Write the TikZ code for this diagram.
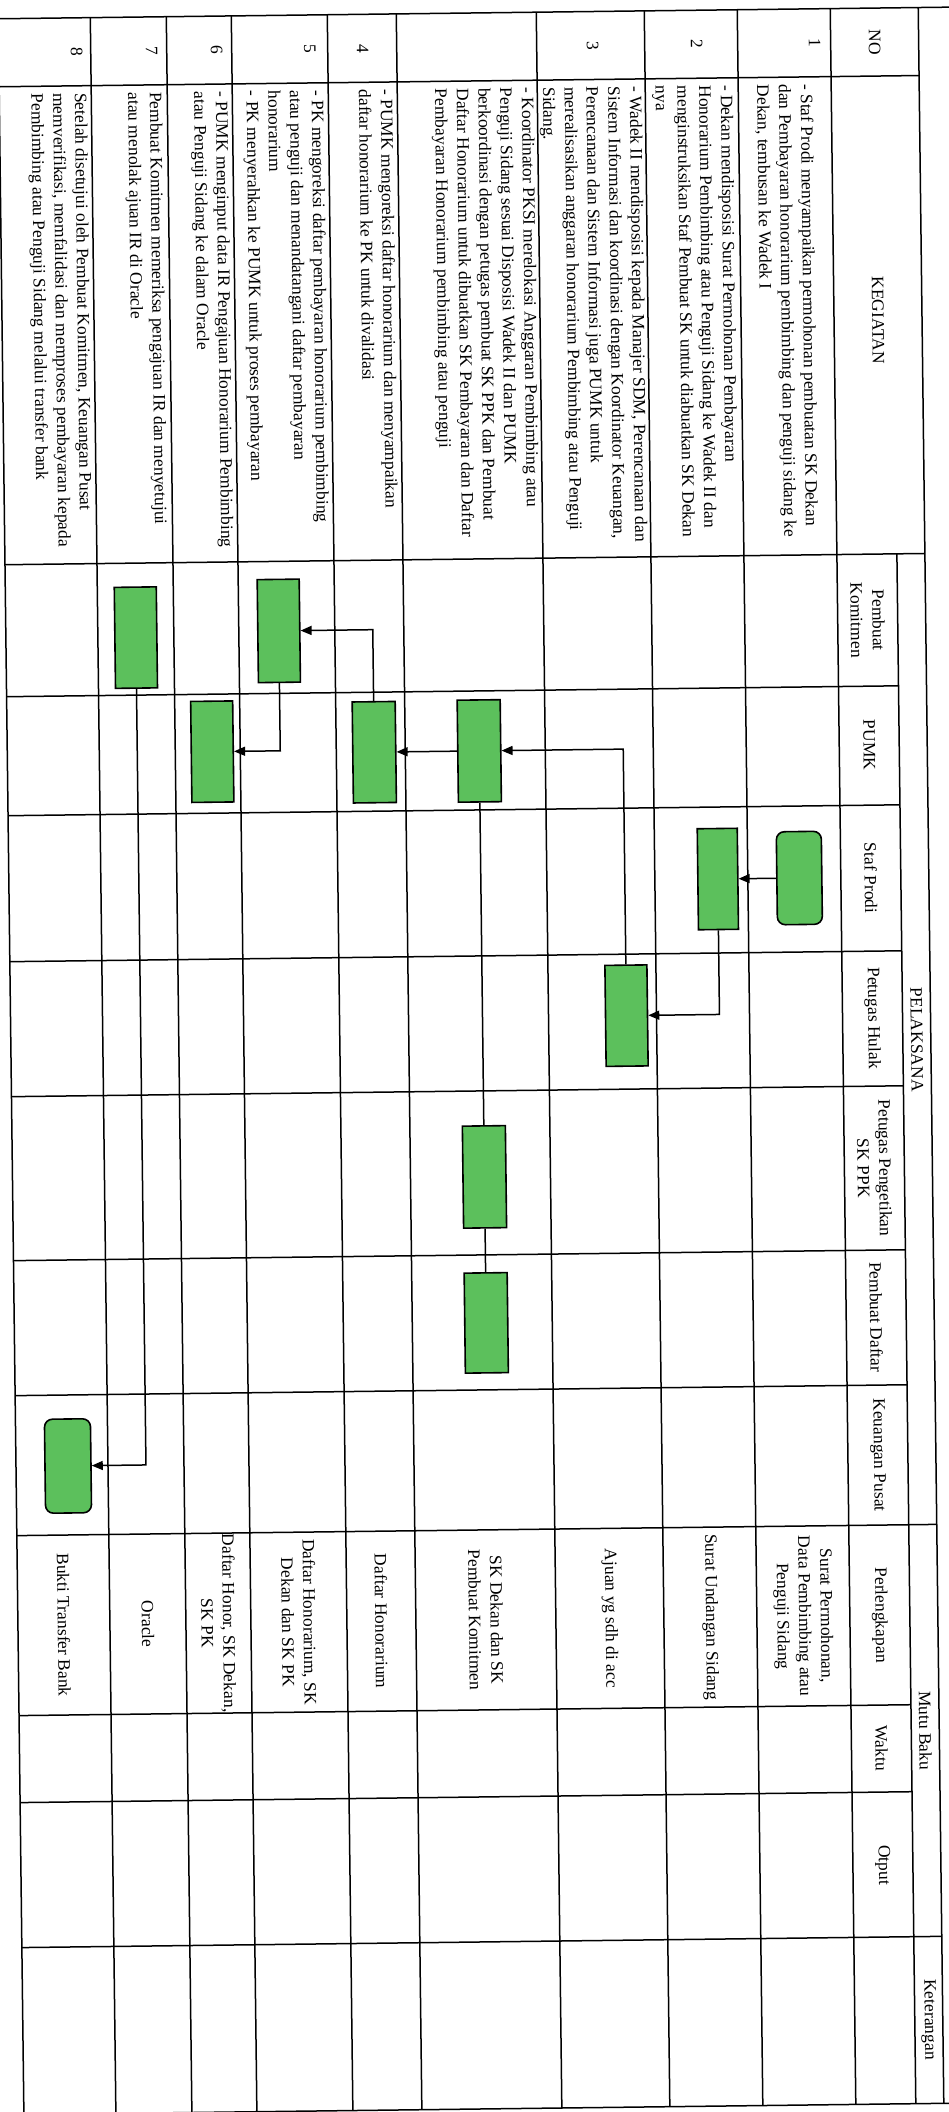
\documentclass[tikz,border=0pt]{standalone}
\usepackage{fontspec}
\setmainfont{Liberation Serif}
\usetikzlibrary{arrows.meta,calc}
\definecolor{boxgreen}{RGB}{92,192,92}
\newcommand\tabfont{\fontsize{17.5}{21.7}\selectfont}
\begin{document}
\begin{tikzpicture}[x=1pt,y=-1pt,
  tbl/.style={line width=1.5pt},
  txt/.style={rotate=-90, inner sep=0pt, font=\tabfont, align=left, anchor=north west},
  ctr/.style={rotate=-90, inner sep=0pt, font=\tabfont, align=center},
  act/.style={draw, line width=1.6pt, fill=boxgreen, inner sep=0pt},
  term/.style={act, rounded corners=8pt},
  conn/.style={line width=1.5pt, -{Triangle[length=11pt,width=9pt]}},
  link/.style={line width=1.5pt}]
\useasboundingbox (0,0) rectangle (949,2112);
\clip (0,0) rectangle (949,2112);
\fill[white] (0,0) rectangle (949,2112);
\begin{scope}[rotate around={0.7:(474.5,1056)}, transform shape]
% ---------- grid ----------
\foreach \x in {11,103,179,244,340,409,549,657,750,843,931}
  \draw[tbl] (\x,13) -- (\x,2109);
\draw[tbl] (903,559) -- (903,2109);
\draw[tbl] (-20,13) -- (975,13);
\draw[tbl] (-20,2109) -- (975,2109);
\foreach \y in {81,559,1530,1942}
  \draw[tbl] (11,\y) -- (931,\y);
\foreach \y in {691,810,956,1091,1255,1390,1710,1797}
  \draw[tbl] (11,\y) -- (903,\y);
% ---------- header ----------
\node[ctr] (hno) at (887,47) {NO};
\node[ctr] (hkeg) at (887,325) {KEGIATAN};
\node[ctr] (hpel) at (917,1045) {PELAKSANA};
\node[ctr] (hmutu) at (917,1736) {Mutu Baku};
\node[ctr] (hket) at (917,2025) {Keterangan};
\node[ctr] (hpk) at (873,625) {Pembuat\\Komitmen};
\node[ctr] (hpumk) at (873,750) {PUMK};
\node[ctr] (hstaf) at (873,883) {Staf Prodi};
\node[ctr] (hhulak) at (873,1023) {Petugas Hulak};
\node[ctr] (hsk) at (873,1173) {Petugas Pengetikan\\SK PPK};
\node[ctr] (hdaftar) at (873,1322) {Pembuat Daftar};
\node[ctr] (hkeu) at (873,1460) {Keuangan Pusat};
\node[ctr] (hperl) at (873,1620) {Perlengkapan};
\node[ctr] (hwaktu) at (873,1753) {Waktu};
\node[ctr] (hotput) at (873,1870) {Otput};
% ---------- numbers ----------
\node[ctr] (n1) at (827,47) {1};
\node[ctr] (n2) at (709,47) {2};
\node[ctr] (n3) at (605,47) {3};
\node[ctr] (n4) at (375,47) {4};
\node[ctr] (n5) at (322,47) {5};
\node[ctr] (n6) at (229,47) {6};
\node[ctr] (n7) at (164,47) {7};
\node[ctr] (n8) at (89,47) {8};
% ---------- kegiatan ----------
\node[txt] (k1) at (825,88) {- Staf Prodi menyampaikan permohonan pembuatan SK Dekan\\dan Pembayaran honorarium pembimbing dan penguji sidang ke\\Dekan, tembusan ke Wadek I};
\node[txt] (k2) at (745,88) {- Dekan mendisposisi Surat Permohonan Pembayaran\\Honorarium Pembimbing atau Penguji Sidang ke Wadek II dan\\menginstruksikan Staf Pembuat SK untuk diabuatkan SK Dekan\\nya};
\node[txt] (k3) at (654,88) {- Wadek II mendisposisi kepada Manajer SDM, Perencanaan dan\\Sistem Informasi dan koordinasi dengan Koordinator Keuangan,\\Perencanaan dan Sistem Informasi juga PUMK untuk\\merealisasikan anggaran honorarium Pembimbing atau Penguji\\Sidang.};
\node[txt] (k4) at (546,88) {- Koordinator PKSI merelokasi Anggaran Pembimbing atau\\Penguji Sidang sesuai Disposisi Wadek II dan PUMK\\berkoordinasi dengan petugas pembuat SK PPK dan Pembuat\\Daftar Honorarium untuk dibuatkan SK Pembayaran dan Daftar\\Pembayaran Honorarium pembimbing atau penguji};
\node[txt] (k5) at (405,88) {- PUMK mengoreksi daftar honorarium dan menyampaikan\\daftar honorarium ke PK untuk divalidasi};
\node[txt] (k6) at (336,88) {- PK mengoreksi daftar pembayaran honorarium pembimbing\\atau penguji dan menandatangani daftar pembayaran\\honorarium\\- PK menyerahkan ke PUMK untuk proses pembayaran};
\node[txt] (k7) at (240,88) {- PUMK menginput data IR Pengajuan Honorarium Pembimbing\\atau Penguji Sidang ke dalam Oracle};
\node[txt] (k8) at (174,88) {Pembuat Komitmen memeriksa pengajuan IR dan menyetujui\\atau menolak ajuan IR di Oracle};
\node[txt] (k9) at (99,88) {Setelah disetujui oleh Pembuat Komitmen, Keuangan Pusat\\memverifikasi, memfalidasi dan memproses pembayaran kepada\\Pembimbing atau Penguji Sidang melalui transfer bank};
% ---------- perlengkapan ----------
\node[ctr] (p1) at (796.5,1620) {Surat Permohonan,\\Data Pembimbing atau\\Penguji Sidang};
\node[ctr] (p2) at (703.5,1620) {Surat Undangan Sidang};
\node[ctr] (p3) at (603,1620) {Ajuan yg sdh di acc};
\node[ctr] (p4) at (479,1620) {SK Dekan dan SK\\Pembuat Komitmen};
\node[ctr] (p5) at (374.5,1620) {Daftar Honorarium};
\node[ctr] (p6) at (292,1620) {Daftar Honorarium, SK\\Dekan dan SK PK};
\node[ctr] (p7) at (211.5,1620) {Daftar Honor, SK Dekan,\\SK PK};
\node[ctr] (p8) at (141,1620) {Oracle};
\node[ctr] (p9) at (57,1620) {Bukti Transfer Bank};
% ---------- flow boxes ----------
\node[term, minimum width=45pt, minimum height=93pt] (start) at (801.5,882) {};
\node[act, minimum width=40pt, minimum height=101pt] (b2) at (720,882) {};
\node[act, minimum width=42pt, minimum height=101pt] (b3) at (627,1017.5) {};
\node[act, minimum width=43pt, minimum height=102pt] (b4) at (483,751) {};
\node[act, minimum width=43pt, minimum height=102pt] (b4b) at (483,1177) {};
\node[act, minimum width=43pt, minimum height=100pt] (b4c) at (483,1323) {};
\node[act, minimum width=43pt, minimum height=101pt] (b5) at (378,751) {};
\node[act, minimum width=42pt, minimum height=103pt] (b6) at (284,628.5) {};
\node[act, minimum width=42pt, minimum height=101pt] (b7) at (216,748.5) {};
\node[act, minimum width=42pt, minimum height=101pt] (b8) at (141,633.5) {};
\node[term, minimum width=46pt, minimum height=94pt] (end) at (63,1461) {};
% ---------- connectors ----------
\draw[conn] (start.west) -- (b2.east);
\draw[conn] (b2.south) -- ($(b2.north)!(b3.east)!(b2.south)$) -- (b3.east);
\draw[conn] (b3.north) -- ($(b3.north)!(b4.east)!(b3.south)$) -- (b4.east);
\draw[link] (b4.south) -- (b4b.north);
\draw[link] (b4b.south) -- (b4c.north);
\draw[conn] (b4.west) -- (b5.east);
\draw[conn] (b5.north) -- ($(b5.north)!(b6.east)!(b5.south)$) -- (b6.east);
\draw[conn] (b6.south) -- ($(b6.north)!(b7.east)!(b6.south)$) -- (b7.east);
\draw[conn] (b8.south) -- ($(b8.north)!(end.east)!(b8.south)$) -- (end.east);
\end{scope}
\end{tikzpicture}
\end{document}
